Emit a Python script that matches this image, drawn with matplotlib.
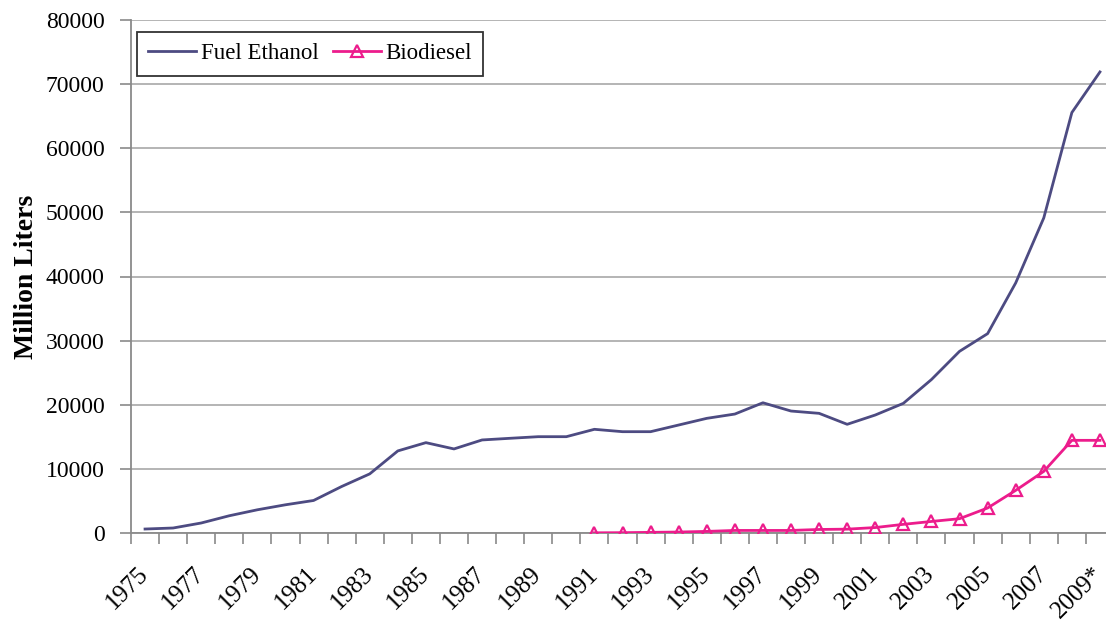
import numpy as np
import matplotlib
matplotlib.use('Agg')
import matplotlib.pyplot as plt
import matplotlib.ticker as mtick

# Annual production, million liters
years = [str(y) for y in range(1975, 2009)] + ['2009*']
ethanol = [620, 780, 1560, 2690, 3620, 4400, 5070, 7250, 9220, 12800,
           14090, 13110, 14510, 14770, 15020, 15020, 16170, 15800, 15800, 16840,
           17880, 18550, 20310, 19020, 18660, 16950, 18400, 20220, 23930, 28330,
           31090, 39000, 49140, 65570, 71900]
biodiesel_years = years[16:]
biodiesel = [30, 50, 100, 150, 250, 400, 400, 400, 550, 600,
             850, 1350, 1800, 2230, 3900, 6650, 9610, 14450, 14450]

plt.rcParams['font.family'] = ['Liberation Serif', 'DejaVu Serif']

fig = plt.figure(figsize=(11.06, 6.28), dpi=100)
a = fig.add_axes([131/1106., 95/628., 983/1106., 513/628.])

x = np.arange(len(years))
xb = np.array([years.index(y) for y in biodiesel_years])

a.plot(x, ethanol, color='#4d4b82', lw=2, label='Fuel Ethanol', zorder=3)
a.plot(xb, biodiesel, color='#ec1c8c', lw=2, marker='^', ms=9,
       mfc='none', mec='#ec1c8c', mew=1.6, label='Biodiesel', zorder=4)

a.set_xlim(-0.5, len(years) - 0.5)
a.set_ylim(0, 80000)
a.yaxis.set_major_locator(mtick.MultipleLocator(10000))
a.grid(axis='y', color='#b4b4b4', lw=1.4, zorder=0)

# ticks between categories, labels on every other category
a.set_xticks(np.arange(-0.5, len(years), 1.0))
a.set_xticklabels([])
a.set_xticks(x[::2], minor=True)
a.set_xticklabels(years[::2], minor=True, rotation=45, ha='right',
                  va='center', rotation_mode='anchor', fontsize=18)
a.tick_params(axis='x', which='major', direction='out', length=8,
              color='#8a8a8a', width=1.2)
a.tick_params(axis='x', which='minor', length=0, pad=27)
a.tick_params(axis='y', direction='out', length=8, color='#8a8a8a',
              width=1.2, labelsize=17, pad=11)

for s in ['top', 'right']:
    a.spines[s].set_visible(False)
for s in ['left', 'bottom']:
    a.spines[s].set_color('#8a8a8a')
    a.spines[s].set_linewidth(1.3)

a.set_ylabel('Million Liters', fontsize=20, fontweight='bold')
a.yaxis.set_label_coords(-0.094, 0.5)

leg = a.legend(loc='upper left', ncol=2, fontsize=16.5, frameon=True,
               fancybox=False, edgecolor='black', handlelength=2.1,
               handletextpad=0.2, columnspacing=0.6, borderpad=0.5,
               borderaxespad=0, bbox_to_anchor=(0.006, 0.977))
leg.get_frame().set_linewidth(1.3)

fig.savefig('out.png', dpi=100)
